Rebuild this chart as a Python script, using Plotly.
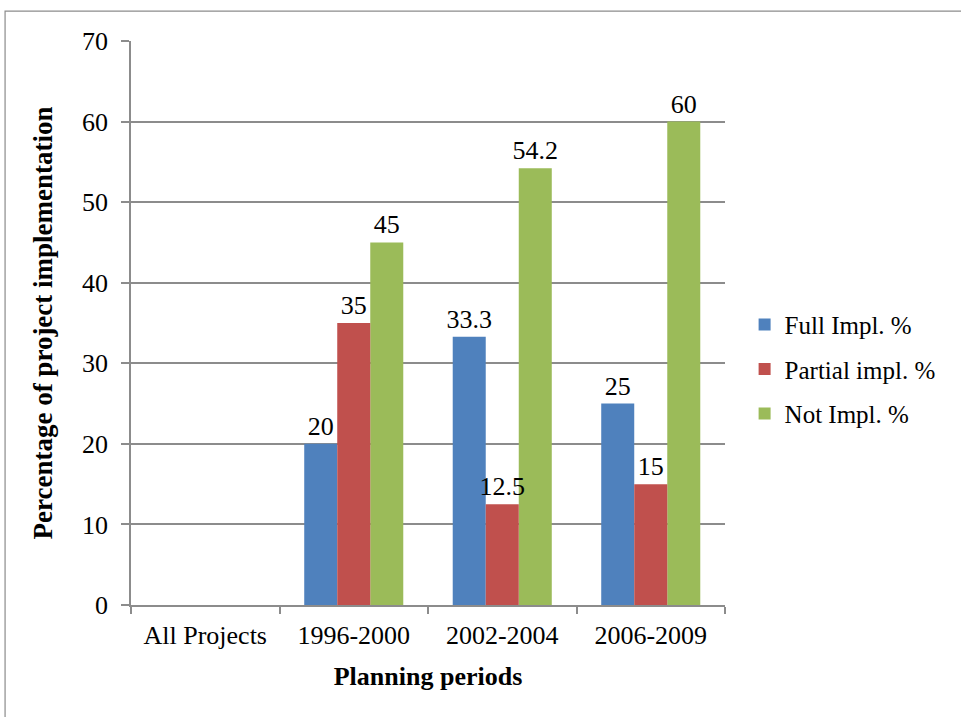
import plotly.graph_objects as go

# Planning periods and implementation shares (%)
periods = ["All Projects", "1996-2000", "2002-2004", "2006-2009"]
full_impl = [None, 20, 33.3, 25]
partial_impl = [None, 35, 12.5, 15]
not_impl = [None, 45, 54.2, 60]

series_names = ["Full Impl. %", "Partial impl. %", "Not Impl. %"]
series_colors = ["#4F81BD", "#C0504D", "#9BBB59"]
y_ticks = [0, 10, 20, 30, 40, 50, 60, 70]

FONT = "Liberation Serif, Times New Roman, serif"
GRID = "#8c8c8c"

# side-by-side bars laid out explicitly so the middle series is drawn last
BAR_W = (1 - 0.333) / 3
offsets = [-1.5 * BAR_W, -0.5 * BAR_W, 0.5 * BAR_W]
series = list(zip(series_names, [full_impl, partial_impl, not_impl], series_colors, offsets))
draw_order = [0, 2, 1]

fig = go.Figure()
for i in draw_order:
    name, vals, col, off = series[i]
    fig.add_trace(go.Bar(
        x=periods, y=vals, name=name, legendgroup=name, legendrank=i + 1,
        width=BAR_W, offset=off,
        marker=dict(color=col, line=dict(width=0)),
        text=[("" if v is None else f"{v:g}") for v in vals],
        textposition="outside", constraintext="none",
        textfont=dict(family=FONT, size=26, color="black"),
        cliponaxis=False,
    ))

fig.update_layout(
    width=961, height=717,
    margin=dict(l=131, r=236, t=41, b=112),
    paper_bgcolor="white", plot_bgcolor="white",
    barmode="overlay",
    font=dict(family=FONT, size=26, color="black"),
    uniformtext=dict(mode=False),
    showlegend=True,
    legend=dict(
        x=1.033, y=0.418, xanchor="left", yanchor="middle",
        font=dict(family=FONT, size=25, color="black"),
        itemwidth=30, tracegroupgap=9, traceorder="grouped", bgcolor="rgba(0,0,0,0)",
    ),
    xaxis=dict(
        type="category", categoryorder="array", categoryarray=periods,
        showline=True, linecolor=GRID, linewidth=1.5,
        ticks="outside", tickson="boundaries", ticklen=7, tickcolor=GRID, tickwidth=1.5,
        showgrid=False, ticklabelstandoff=6,
        tickfont=dict(family=FONT, size=26),
        title=dict(text="<b>Planning periods</b>", font=dict(family=FONT, size=26), standoff=18),
    ),
    yaxis=dict(
        range=[0, 70], tickvals=y_ticks,
        showline=True, linecolor=GRID, linewidth=1.5,
        ticks="outside", ticklen=8, tickcolor=GRID, tickwidth=1.5,
        showgrid=True, gridcolor=GRID, gridwidth=1.5, zeroline=False,
        ticklabelstandoff=8,
        tickfont=dict(family=FONT, size=26),
        title=dict(text="<b>Percentage of project implementation</b>",
                   font=dict(family=FONT, size=27), standoff=22),
    ),
    shapes=[dict(type="rect", xref="paper", yref="paper",
                 x0=-0.212, y0=-0.3, x1=1.7, y1=1.053,
                 line=dict(color="#8c8c8c", width=1.2), fillcolor="rgba(0,0,0,0)", layer="below")],
)

fig.write_html("out.html")
